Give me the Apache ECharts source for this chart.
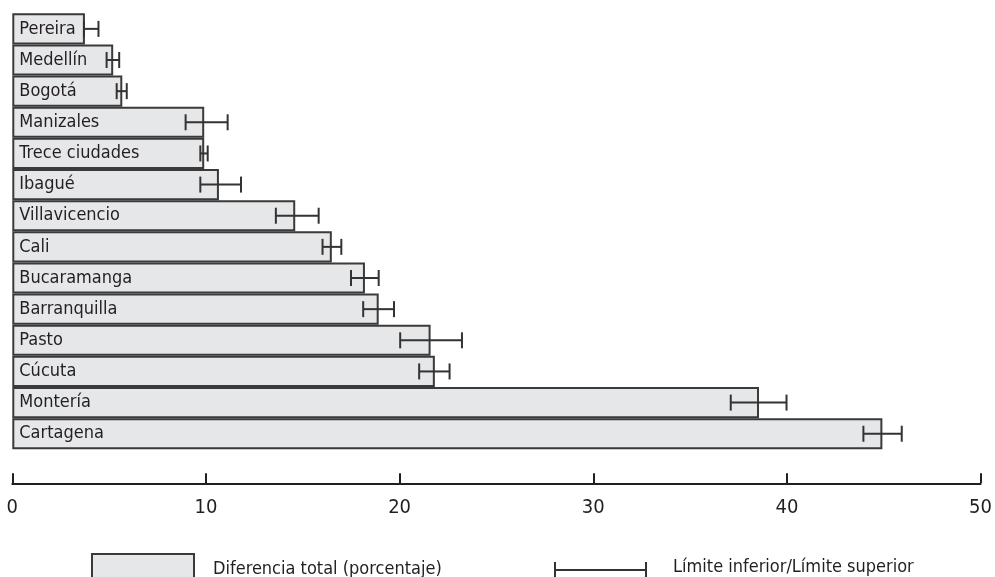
<!DOCTYPE html>
<html>
<head>
<meta charset="utf-8">
<script src="https://cdn.jsdelivr.net/npm/echarts@6/dist/echarts.min.js"></script>
<style>
  html, body { margin: 0; padding: 0; background: #fff; }
  #chart { width: 995px; height: 577px; }
</style>
</head>
<body>
<div id="chart"></div>
<script>
// Cities, top to bottom
const cities = ['Pereira', 'Medellín', 'Bogotá', 'Manizales', 'Trece ciudades', 'Ibagué',
  'Villavicencio', 'Cali', 'Bucaramanga', 'Barranquilla', 'Pasto', 'Cúcuta', 'Montería', 'Cartagena'];
// Total difference (percent)
const totalDiff = [3.75, 5.21, 5.68, 9.91, 9.91, 10.67, 14.61, 16.5, 18.21, 18.92, 21.6, 21.82, 38.56, 44.93];
// Lower / upper limits
const lowerLimit = [3.7, 4.87, 5.39, 8.95, 9.71, 9.71, 13.61, 16.02, 17.49, 18.12, 20.03, 21.01, 37.1, 43.95];
const upperLimit = [4.45, 5.52, 5.91, 11.12, 10.09, 11.81, 15.82, 16.99, 18.92, 19.71, 23.22, 22.58, 39.98, 45.93];
const xTicks = [0, 10, 20, 30, 40, 50];

const barName = 'Diferencia total (porcentaje)';
const errName = 'Límite inferior/Límite superior';
const FONT = '"Liberation Sans Narrow", "DejaVu Sans Condensed", sans-serif';
const INK = '#231f20';
const FS = 18;

const errData = cities.map((c, i) => [i, lowerLimit[i], upperLimit[i]]);

const chart = echarts.init(document.getElementById('chart'), null, { renderer: 'canvas' });

chart.setOption({
  animation: false,
  textStyle: { fontFamily: FONT },
  grid: { left: 12.3, right: 14, top: 13.3, bottom: 127.7 },
  xAxis: {
    type: 'value',
    min: xTicks[0],
    max: xTicks[xTicks.length - 1],
    interval: 10,
    offset: 34,
    splitLine: { show: false },
    axisLine: { show: true, lineStyle: { color: INK, width: 2 } },
    axisTick: { show: true, inside: true, length: 10, lineStyle: { color: INK, width: 2 } },
    axisLabel: { color: INK, fontSize: 20, fontFamily: FONT, margin: 14 }
  },
  yAxis: {
    type: 'category',
    data: cities,
    inverse: true,
    axisLine: { show: false },
    axisTick: { show: false },
    axisLabel: { show: false },
    splitLine: { show: false }
  },
  legend: [
    {
      data: [{ name: barName, icon: 'rect' }],
      left: 91,
      top: 553,
      padding: 0,
      itemWidth: 102,
      itemHeight: 31,
      selectedMode: false,
      itemStyle: { color: '#e6e7e8', borderColor: '#3a3a3a', borderWidth: 2 },
      textStyle: { color: INK, fontSize: FS, fontFamily: FONT, padding: [0, 0, 0, 14] }
    },
    {
      // error-bar glyph sits in the lower part of its box (the leading M0,0Z only widens the bounds)
      data: [{ name: errName, icon: 'path://M0,0Z M0,6H2V22H0Z M0,13H93V15H0Z M91,6H93V22H91Z' }],
      left: 554,
      top: 556,
      padding: 0,
      itemWidth: 93,
      itemHeight: 22,
      selectedMode: false,
      itemStyle: { color: '#333', borderWidth: 0 },
      textStyle: { color: INK, fontSize: FS, fontFamily: FONT, padding: [0, 0, 0, 21] }
    }
  ],
  series: [
    {
      name: barName,
      type: 'bar',
      data: totalDiff,
      barCategoryGap: 0,
      itemStyle: { color: '#e6e7e8', borderColor: '#3a3a3a', borderWidth: 2 },
      label: {
        show: true,
        position: 'insideLeft',
        distance: 7,
        formatter: '{b}',
        color: INK,
        fontSize: FS,
        fontFamily: FONT
      },
      z: 2
    },
    {
      name: errName,
      type: 'custom',
      data: errData,
      z: 3,
      itemStyle: { color: '#333' },
      renderItem: function (params, api) {
        const idx = api.value(0);
        const lo = api.coord([api.value(1), idx]);
        const hi = api.coord([api.value(2), idx]);
        const half = 8;
        const style = { stroke: '#333', lineWidth: 2, fill: null };
        return {
          type: 'group',
          children: [
            { type: 'line', shape: { x1: lo[0], y1: lo[1], x2: hi[0], y2: hi[1] }, style: style },
            { type: 'line', shape: { x1: lo[0], y1: lo[1] - half, x2: lo[0], y2: lo[1] + half }, style: style },
            { type: 'line', shape: { x1: hi[0], y1: hi[1] - half, x2: hi[0], y2: hi[1] + half }, style: style }
          ]
        };
      },
      encode: { x: [1, 2], y: 0 }
    }
  ]
});
</script>
</body>
</html>
